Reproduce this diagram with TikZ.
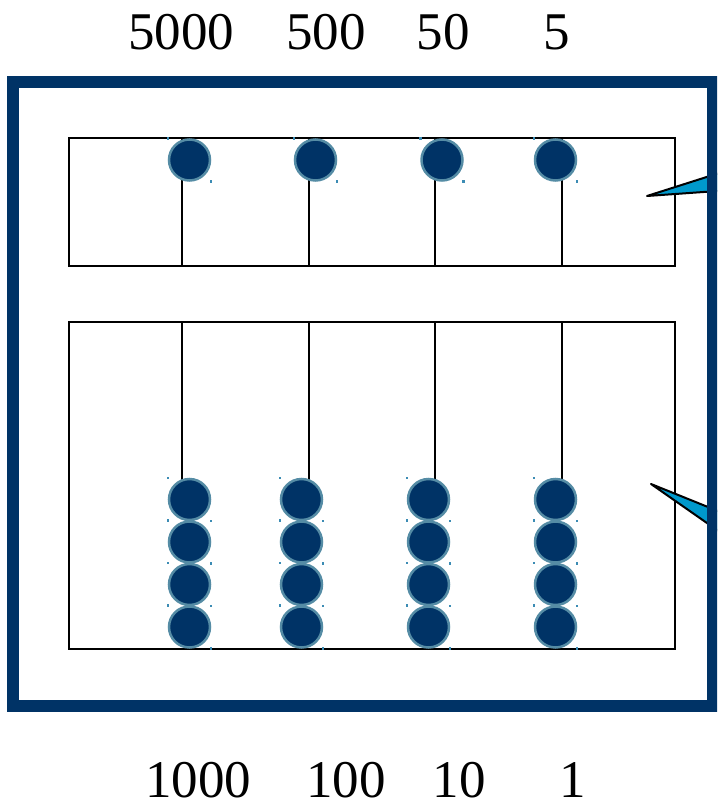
\documentclass[tikz,border=0pt]{standalone}
\usepackage{fontspec}
\setmainfont{Liberation Serif}
\definecolor{navy}{RGB}{0,51,102}
\definecolor{beadrim}{RGB}{85,140,165}
\definecolor{handle}{RGB}{60,140,180}
\definecolor{pointer}{RGB}{0,153,204}
\begin{document}
\begin{tikzpicture}[x=1pt,y=-1pt,
  bead/.style={circle, fill=navy, draw=beadrim, line width=2.5pt,
               minimum size=41pt, inner sep=0pt},
  deck/.style={draw=black, line width=2pt},
  rod/.style={draw=black, line width=2pt},
  frame/.style={draw=navy, line width=12pt},
  handledot/.style={fill=handle},
  numlabel/.style={font=\fontsize{53}{58}\selectfont, anchor=base, inner sep=0pt},
  callout/.style={fill=pointer, draw=black, line width=2pt, line join=round}]
\useasboundingbox (0,0) rectangle (717,805);
\clip (0,0) rectangle (717,805);

% decks of the abacus
\coordinate (upperNW) at (69,138);
\coordinate (upperSE) at (675,266);
\coordinate (lowerNW) at (69,322);
\coordinate (lowerSE) at (675,649);
\draw[deck] (upperNW) rectangle (upperSE);
\draw[deck] (lowerNW) rectangle (lowerSE);

% pointers coming in from the right
\coordinate (tipA) at (647,196);
\coordinate (tipB) at (651,484);
\draw[callout] (tipA) -- (760,160) -- (760,188) -- cycle;
\draw[callout] (tipB) -- (760,528) -- (760,560) -- cycle;

% outer frame
\draw[frame] (13,82) rectangle (713,706);

% upper deck: rods and one bead each
\foreach \r/\bx [count=\i] in {182/189.5, 309/315.5, 435/442, 562/555.5} {
  \coordinate (utop\i) at (\r,138);
  \coordinate (ubot\i) at (\r,266);
  \draw[rod] (utop\i) -- (ubot\i);
  \fill[handledot] (\bx-21.5-1.2,138.5-1.2) rectangle ++(2.4,2.4);
  \fill[handledot] (\bx+21.5-1.2,181.5-1.2) rectangle ++(2.4,2.4);
  \node[bead] (ubead\i) at (\bx,160) {};
}

% lower deck: rods and four beads each
\foreach \r/\bx [count=\i] in {182/189.5, 309/301.5, 435/428.5, 562/555.5} {
  \coordinate (ltop\i) at (\r,322);
  \coordinate (lend\i) at (\r,480);
  \draw[rod] (ltop\i) -- (lend\i);
  \foreach \by [count=\k] in {499.5,542,584.5,627} {
    \fill[handledot] (\bx-21.5-1.2,\by-21.5-1.2) rectangle ++(2.4,2.4);
    \fill[handledot] (\bx+21.5-1.2,\by+21.5-1.2) rectangle ++(2.4,2.4);
  }
  \foreach \by [count=\k] in {499.5,542,584.5,627} {
    \node[bead] (lbead\i\k) at (\bx,\by) {};
  }
}

% place values
\node[numlabel] (v5000) at (181,50) {5000};
\node[numlabel] (v500)  at (326,50) {500};
\node[numlabel] (v50)   at (443,50) {50};
\node[numlabel] (v5)    at (557,50) {5};
\node[numlabel] (v1000) at (198,797) {1000};
\node[numlabel] (v100)  at (346,797) {100};
\node[numlabel] (v10)   at (459,797) {10};
\node[numlabel] (v1)    at (573,797) {1};
\end{tikzpicture}
\end{document}
